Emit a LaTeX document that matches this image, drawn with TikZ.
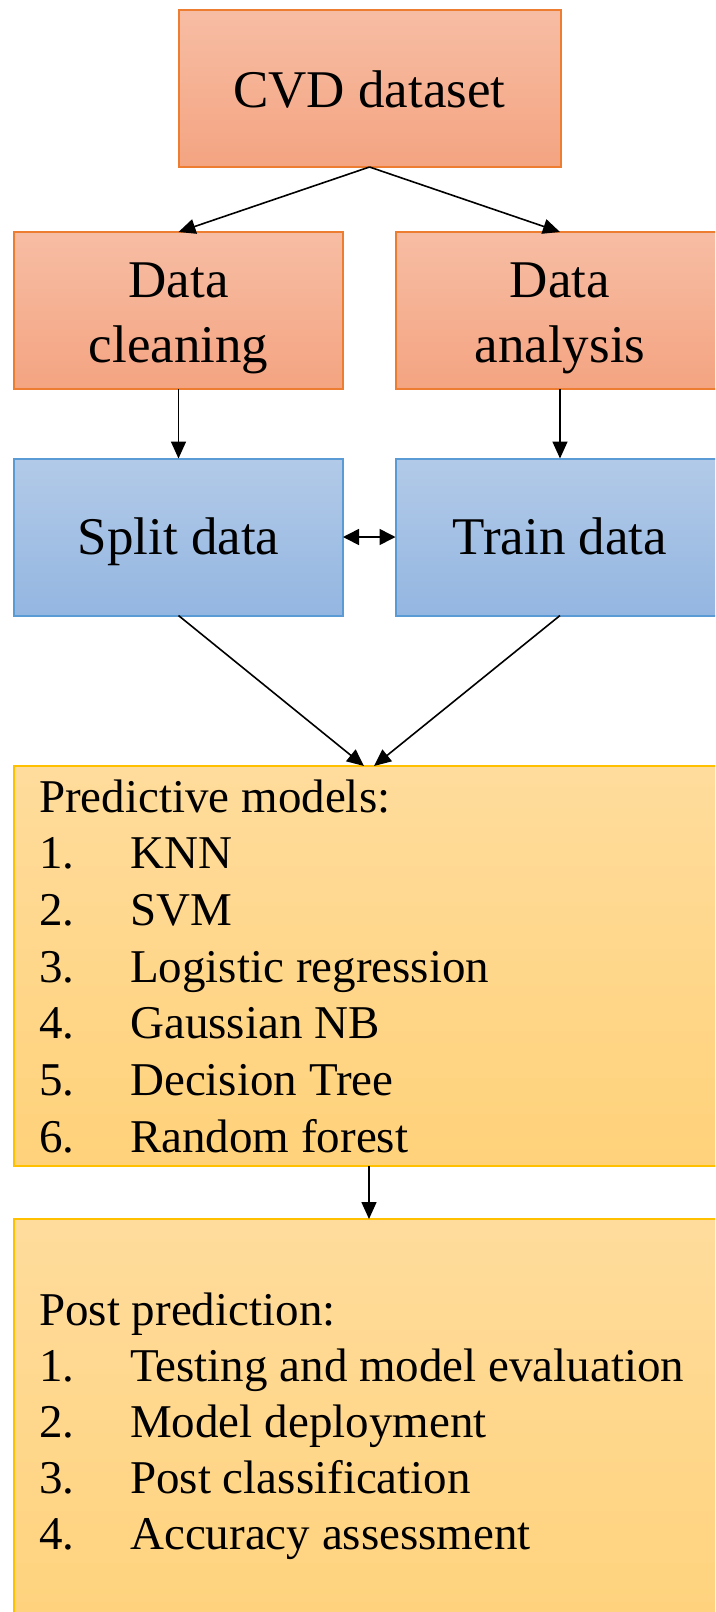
\documentclass[tikz,border=0pt]{standalone}
\usepackage{fontspec}
\setmainfont{Liberation Serif}
\usetikzlibrary{arrows.meta}

\definecolor{orTop}{HTML}{F7BDA4}
\definecolor{orBot}{HTML}{F4A481}
\definecolor{orLine}{HTML}{ED7D31}
\definecolor{blTop}{HTML}{B2CAE8}
\definecolor{blBot}{HTML}{94B6E1}
\definecolor{blLine}{HTML}{5B9BD5}
\definecolor{ylTop}{HTML}{FFDC9C}
\definecolor{ylBot}{HTML}{FFD27A}
\definecolor{ylLine}{HTML}{FFC000}

\tikzset{
  box/.style={rectangle, line width=2pt, outer sep=0pt, inner sep=0pt},
  obox/.style={box, draw=orLine, top color=orTop, bottom color=orBot,
               minimum width=329pt, minimum height=157pt},
  bbox/.style={box, draw=blLine, top color=blTop, bottom color=blBot,
               minimum width=329pt, minimum height=157pt},
  ybox/.style={box, draw=ylLine, top color=ylTop, bottom color=ylBot,
               minimum width=710pt},
  ttl/.style={anchor=base, inner sep=0pt, font=\fontsize{53}{65}\selectfont},
  lst/.style={anchor=base west, inner sep=0pt, font=\fontsize{47}{57}\selectfont},
  flow/.style={line width=1.6pt, -{Triangle[length=17pt,width=15pt]}},
  both/.style={line width=1.6pt, {Triangle[length=16pt,width=16pt]}-{Triangle[length=16pt,width=16pt]}}
}

\begin{document}
\begin{tikzpicture}[x=1pt,y=-1pt]
  \useasboundingbox (0,0) rectangle (715,1612);
  \clip (0,0) rectangle (715,1612);

  % data preparation stage
  \node[obox, minimum width=382pt] (cvd) at (369.5,88.5) {};
  \node[ttl] (cvdT) at (369.5,107) {CVD dataset};

  \node[obox] (clean) at (178.5,310.5) {};
  \node[ttl] (cleanT1) at (178.5,297.5) {Data};
  \node[ttl] (cleanT2) at (178.5,362.5) {cleaning};

  \node[obox] (anal) at (560,310.5) {};
  \node[ttl] (analT1) at (560,297.5) {Data};
  \node[ttl] (analT2) at (560,362.5) {analysis};

  % splitting and training
  \node[bbox] (split) at (178.5,537) {};
  \node[ttl] (splitT) at (178.5,554.5) {Split data};

  \node[bbox] (train) at (560,537) {};
  \node[ttl] (trainT) at (560,554.5) {Train data};

  % models
  \node[ybox, minimum height=400pt] (pred) at (369,966) {};
  \node[lst] (p0) at (39,812) {Predictive models:};
  \foreach \n/\t [count=\k] in {1/KNN, 2/SVM, 3/Logistic regression,
      4/Gaussian NB, 5/Decision Tree, 6/Random forest} {
    \node[lst] (pn\k) at (39,{812+56.7*\k}) {\n.};
    \node[lst] (pt\k) at (130,{812+56.7*\k}) {\t};
  }

  % post prediction
  \node[ybox, minimum height=441pt] (post) at (369,1439.5) {};
  \node[lst] (q0) at (39,1325) {Post prediction:};
  \foreach \n/\t [count=\k] in {1/Testing and model evaluation, 2/Model deployment,
      3/Post classification, 4/Accuracy assessment} {
    \node[lst] (qn\k) at (39,{1325+56*\k}) {\n.};
    \node[lst] (qt\k) at (130,{1325+56*\k}) {\t};
  }

  % connectors
  \coordinate (inL) at (364,766);
  \coordinate (inR) at (374,766);
  \draw[flow] (cvd.south) -- (clean.north);
  \draw[flow] (cvd.south) -- (anal.north);
  \draw[flow] (clean.south) -- (split.north);
  \draw[flow] (anal.south) -- (train.north);
  \draw[both] (split.east) -- (train.west);
  \draw[flow] (split.south) -- (inL);
  \draw[flow] (train.south) -- (inR);
  \draw[flow] (pred.south) -- (post.north);
\end{tikzpicture}
\end{document}
